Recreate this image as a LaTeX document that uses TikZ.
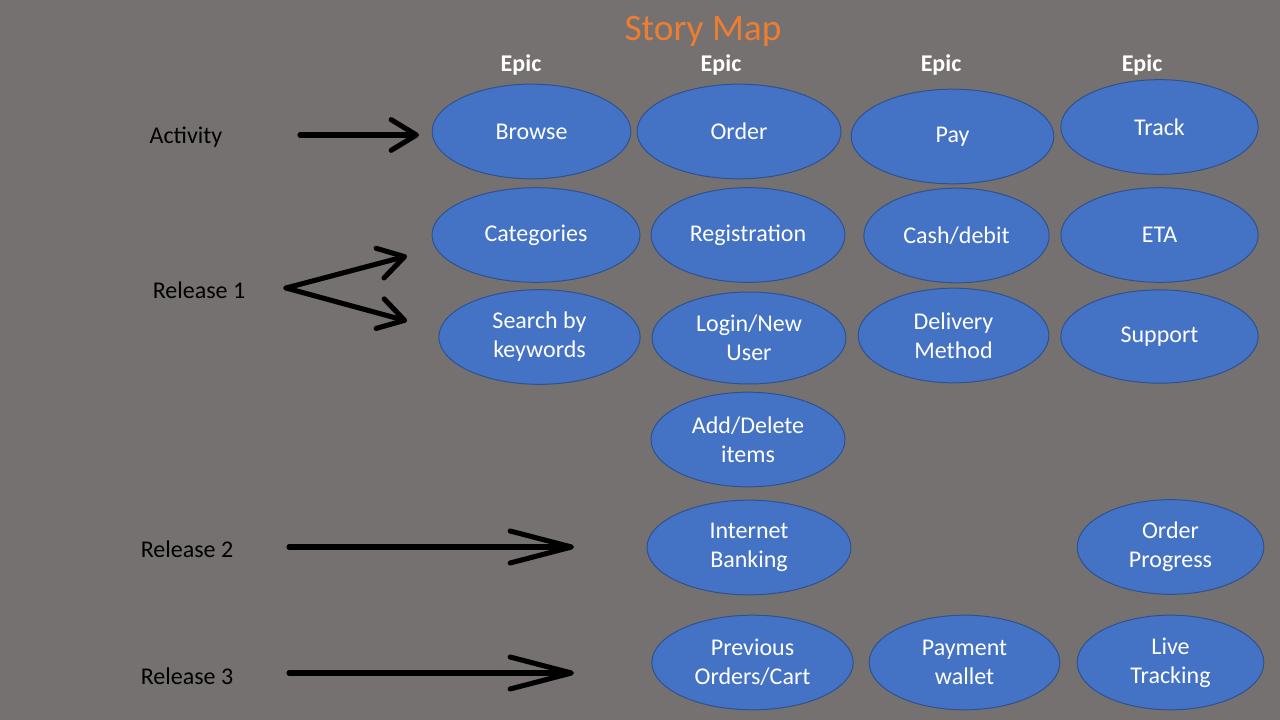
\documentclass[tikz,border=0pt]{standalone}
\usepackage{fontspec}
\setmainfont{Carlito}
\usetikzlibrary{shapes.geometric,arrows.meta}
\definecolor{slate}{HTML}{767171}
\definecolor{storyblue}{HTML}{4472C4}
\definecolor{storyedge}{HTML}{2F528F}
\definecolor{titleorange}{HTML}{ED7D31}
\tikzset{
  story/.style={ellipse, draw=storyedge, line width=0.75pt, fill=storyblue,
    text=white, align=center, inner sep=0pt, minimum width=#1,
    minimum height=71pt, font=\fontsize{18}{21.75}\selectfont},
  story/.default=146pt,
  rowlabel/.style={font=\fontsize{18}{21.75}\selectfont, text=black},
  epic/.style={font=\fontsize{18}{21.75}\selectfont\bfseries, text=white},
  pointer/.style={line width=3.8pt, line cap=round,
    -{Straight Barb[length=19pt,width=23pt,round]}},
  longpointer/.style={pointer, -{Straight Barb[length=46pt,width=24pt,round]}},
}
\begin{document}
\begin{tikzpicture}[x=0.75pt,y=-0.75pt]
\fill[slate] (0,0) rectangle (1280,720);
\useasboundingbox (0,0) rectangle (1280,720);

\node[text=titleorange, font=\fontsize{28}{32}\selectfont] (title) at (703,31) {Story Map};
\node[epic] (epicA) at (521,65) {Epic};
\node[epic] (epicB) at (721,65) {Epic};
\node[epic] (epicC) at (941,65) {Epic};
\node[epic] (epicD) at (1142,65) {Epic};

\node[rowlabel] (activity) at (186,137) {Activity};
\node[rowlabel] (release1) at (199,290) {Release 1};
\node[rowlabel] (release2) at (187,549) {Release 2};
\node[rowlabel] (release3) at (187,676) {Release 3};

\node[story=149pt] (browse) at (531.5,131.5) {Browse};
\node[story=153pt] (order) at (739,131.5) {Order};
\node[story=152pt] (pay) at (952.5,136.5) {Pay};
\node[story=148pt] (track) at (1159.5,127) {Track};

\node[story=156pt] (categories) at (536,235) {Categories};
\node[story=145.5pt] (registration) at (748,235) {Registration};
\node[story=139pt] (cash) at (956.5,235.5) {Cash/debit};
\node[story=148pt] (eta) at (1159.5,235) {ETA};

\node[story=151pt] (search) at (539.5,337) {Search by\\keywords};
\node[story=145.5pt, minimum height=69pt] (login) at (749,338) {Login/New\\User};
\node[story=143pt] (delivery) at (953.5,335.5) {Delivery\\Method};
\node[story=148pt, minimum height=70pt] (support) at (1159.5,336.5) {Support};

\node[story=145.5pt] (items) at (748,439.5) {Add/Delete\\items};

\node[story=153pt] (banking) at (749,547.5) {Internet\\Banking};
\node[story=140pt] (progress) at (1170.5,547) {Order\\Progress};

\node[story=151pt] (previous) at (752.5,662.5) {Previous\\Orders/Cart};
\node[story=143pt] (wallet) at (964.5,662.5) {Payment\\wallet};
\node[story=140pt] (live) at (1170.5,662.5) {Live\\Tracking};

\coordinate (activityS) at (300,135);
\coordinate (activityE) at (419,135);
\coordinate (release1S) at (286,288);
\coordinate (release1U) at (407,256);
\coordinate (release1D) at (407,321);
\coordinate (release2S) at (289,547);
\coordinate (release2E) at (574,547);
\coordinate (release3S) at (289,673);
\coordinate (release3E) at (574,673);

\draw[pointer] (activityS) -- (activityE);
\draw[pointer] (release1S) -- (release1U);
\draw[pointer] (release1S) -- (release1D);
\draw[longpointer] (release2S) -- (release2E);
\draw[longpointer] (release3S) -- (release3E);
\end{tikzpicture}
\end{document}
